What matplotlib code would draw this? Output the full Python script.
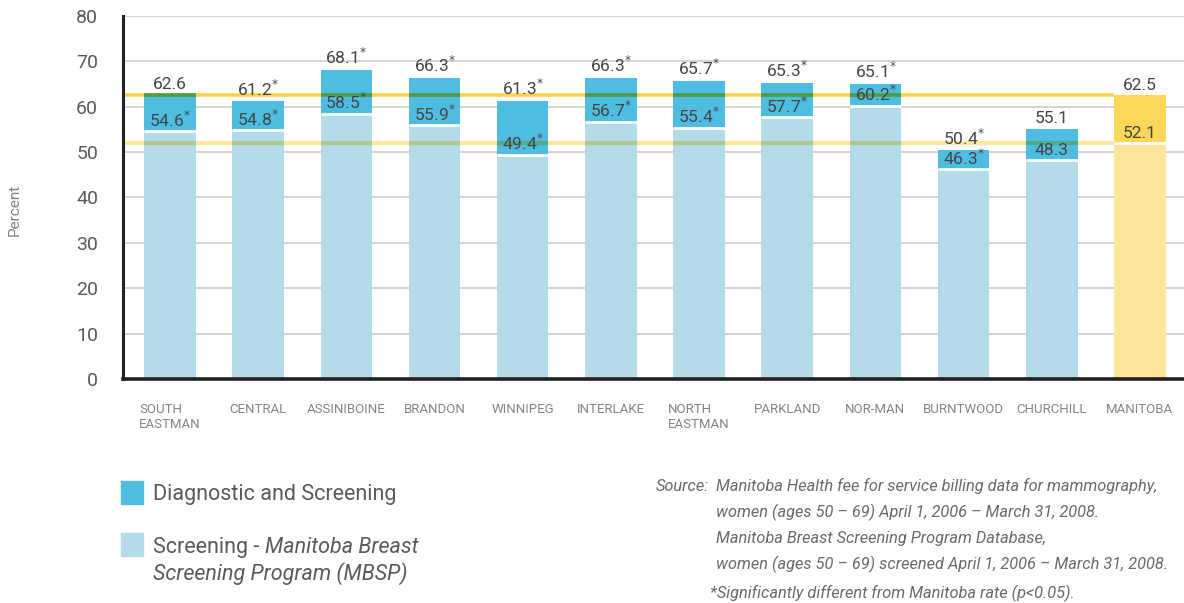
import numpy as np
import matplotlib
matplotlib.use("Agg")
import matplotlib.pyplot as plt
from matplotlib.colors import to_rgb
from matplotlib.patches import Rectangle

plt.rcParams['font.family'] = ['Roboto', 'DejaVu Sans']

# data
regions = ["SOUTH\nEASTMAN", "CENTRAL", "ASSINIBOINE", "BRANDON", "WINNIPEG", "INTERLAKE",
           "NORTH\nEASTMAN", "PARKLAND", "NOR-MAN", "BURNTWOOD", "CHURCHILL", "MANITOBA"]
total = [62.6, 61.2, 68.1, 66.3, 61.3, 66.3, 65.7, 65.3, 65.1, 50.4, 55.1, 62.5]
screening = [54.6, 54.8, 58.5, 55.9, 49.4, 56.7, 55.4, 57.7, 60.2, 46.3, 48.3, 52.1]
total_sig = [False, True, True, True, True, True, True, True, True, True, False, False]
screen_sig = [True, True, True, True, True, True, True, True, True, True, False, False]

dark_blue = "#4fbde2"
light_blue = "#b3dbea"
dark_yellow = "#fed65a"
light_yellow = "#fee39b"
line_top = "#fdd34e"
line_low = "#fee7a0"


def multiply(c1, c2):
    a, b = np.array(to_rgb(c1)), np.array(to_rgb(c2))
    return tuple(a * b)


def label(v, sig):
    return f"{v:.1f}" + (r"$^{*}$" if sig else "")


fig = plt.figure(figsize=(11.84, 6.03), dpi=100)
ax = fig.add_axes([123 / 1184, 1 - 379 / 603, 1 - 123 / 1184, (379 - 16) / 603])

n = len(regions)
x = np.arange(n)
w = 0.585
dark_cols = [dark_blue] * (n - 1) + [dark_yellow]
light_cols = [light_blue] * (n - 1) + [light_yellow]

tot = np.array(total)
scr = np.array(screening)
ax.bar(x, scr, width=w, color=light_cols, zorder=2)
ax.bar(x, tot - scr, bottom=scr, width=w, color=dark_cols, zorder=2)
ax.hlines(scr, x - w / 2, x + w / 2, color="white", lw=2, zorder=3)

# Manitoba reference lines (multiply-blended over bars)
left = -0.533
mb_tot, mb_scr = total[-1], screening[-1]
for v, col, lw in [(mb_tot, line_top, 2.6), (mb_scr, line_low, 3.0)]:
    ax.hlines(v, left, x[-1] - w / 2, color=col, lw=lw, zorder=1.5)
    for i in range(n - 1):
        if v <= screening[i]:
            under = light_cols[i]
        elif v <= total[i]:
            under = dark_cols[i]
        else:
            continue
        ax.hlines(v, i - w / 2, i + w / 2, color=multiply(col, under), lw=lw, zorder=4)

for i in range(n):
    ax.annotate(label(total[i], total_sig[i]), (x[i], total[i]), xytext=(0, 2),
                textcoords="offset points", ha="center", va="bottom",
                fontsize=12.5, color="#454545", zorder=5)
    ax.annotate(label(screening[i], screen_sig[i]), (x[i], screening[i]), xytext=(0, 1),
                textcoords="offset points", ha="center", va="bottom",
                fontsize=12.5, color="#454545", zorder=5)

ax.set_xlim(left, 11.5)
ax.set_ylim(0, 80)
ax.set_yticks(range(0, 81, 10))
ax.yaxis.grid(True, color="#d0d0d0", lw=1.3, zorder=0)
ax.set_axisbelow(True)
ax.tick_params(axis="y", length=0, pad=18, labelsize=14, labelcolor="#5a5a5a")
ax.set_xticks(x)
ax.set_xticklabels(regions, fontsize=9.5, color="#858585", ma="left", va="top")
ax.tick_params(axis="x", length=0, pad=17)
for s in ["top", "right"]:
    ax.spines[s].set_visible(False)
ax.spines["left"].set_linewidth(2.2)
ax.spines["bottom"].set_linewidth(2.6)
ax.spines["left"].set_color("#222222")
ax.spines["bottom"].set_color("#222222")

fig.text(15 / 1184, 1 - 210 / 603, "Percent", rotation=90, ha="center", va="center",
         fontsize=11, color="#808080")

# legend
W, H = 1184, 603
fig.patches.append(Rectangle((121 / W, 1 - 504 / H), 22 / W, 23 / H, color=dark_blue,
                             transform=fig.transFigure, figure=fig))
fig.patches.append(Rectangle((121 / W, 1 - 556 / H), 22 / W, 23 / H, color=light_blue,
                             transform=fig.transFigure, figure=fig))
fig.text(153 / W, 1 - 500 / H, "Diagnostic and Screening", fontsize=15.5, color="#5a5a5a",
         va="baseline")
t1 = fig.text(153 / W, 1 - 553 / H, "Screening - ", fontsize=15.5, color="#5a5a5a",
              va="baseline")
fig.canvas.draw()
bb = t1.get_window_extent()
fig.text(bb.x1 / W, 1 - 553 / H, "Manitoba Breast", fontsize=15.5, color="#5a5a5a",
         va="baseline", style="italic")
fig.text(153 / W, 1 - 580 / H, "Screening Program (MBSP)", fontsize=15.5, color="#5a5a5a",
         va="baseline", style="italic")

# source note
src = ["Manitoba Health fee for service billing data for mammography,",
       "women (ages 50 \u2013 69) April 1, 2006 \u2013 March 31, 2008.",
       "Manitoba Breast Screening Program Database,",
       "women (ages 50 \u2013 69) screened April 1, 2006 \u2013 March 31, 2008."]
ys = [491, 517, 543, 569]
fig.text(656 / W, 1 - ys[0] / H, "Source:", fontsize=11.8, color="#6a6a6a",
         style="italic", va="baseline")
for s, yy in zip(src, ys):
    fig.text(716 / W, 1 - yy / H, s, fontsize=11.8, color="#6a6a6a",
             style="italic", va="baseline")
fig.text(710 / W, 1 - 598 / H, "*Significantly different from Manitoba rate (p<0.05).",
         fontsize=11.8, color="#6a6a6a", style="italic", va="baseline")

fig.savefig("out.png", dpi=100)
